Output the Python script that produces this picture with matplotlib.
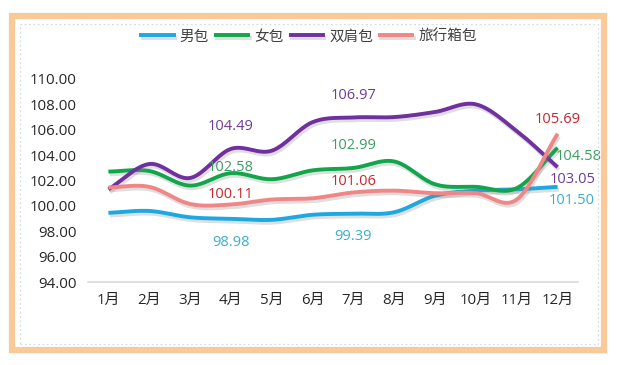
import numpy as np
import matplotlib.pyplot as plt
import matplotlib.patheffects as pe
from matplotlib.patches import Rectangle

plt.rcParams['font.family'] = ['Open Sans', 'Noto Sans CJK SC', 'DejaVu Sans']

months = ['1月', '2月', '3月', '4月', '5月', '6月', '7月', '8月', '9月', '10月', '11月', '12月']
series_names = ['男包', '女包', '双肩包', '旅行箱包']
nanbao = [99.45, 99.6, 99.1, 98.98, 98.9, 99.3, 99.39, 99.5, 100.8, 101.2, 101.3, 101.50]
nvbao = [102.7, 102.75, 101.6, 102.58, 102.1, 102.8, 102.99, 103.5, 101.7, 101.5, 101.4, 104.58]
shuangjian = [101.3, 103.3, 102.2, 104.49, 104.35, 106.6, 106.97, 107.0, 107.4, 108.0, 105.9, 103.05]
lvxing = [101.45, 101.5, 100.15, 100.11, 100.5, 100.6, 101.06, 101.2, 101.0, 101.0, 100.5, 105.69]

line_colors = ['#1BA8E3', '#12A64C', '#7030A0', '#F08686']
label_colors = ['#3AAECF', '#3C9E62', '#6E3C94', '#C4262E']


def smooth(x, y, n=20):
    # catmull-rom through the points, like excel's smoothed line
    x = np.asarray(x, float)
    y = np.asarray(y, float)
    px = np.concatenate([[2 * x[0] - x[1]], x, [2 * x[-1] - x[-2]]])
    py = np.concatenate([[2 * y[0] - y[1]], y, [2 * y[-1] - y[-2]]])
    xs, ys = [], []
    t = np.linspace(0, 1, n, endpoint=False)
    for i in range(1, len(px) - 2):
        for p, out in ((px, xs), (py, ys)):
            p0, p1, p2, p3 = p[i - 1], p[i], p[i + 1], p[i + 2]
            out.extend(0.5 * (2 * p1 + (-p0 + p2) * t + (2 * p0 - 5 * p1 + 4 * p2 - p3) * t ** 2
                              + (-p0 + 3 * p1 - 3 * p2 + p3) * t ** 3))
    xs.append(x[-1])
    ys.append(y[-1])
    return np.array(xs), np.array(ys)


fig = plt.figure(figsize=(6.19, 3.65), dpi=100)
# orange outer frame and dotted inner border
fig.patches.append(Rectangle((12 / 619, 1 - 350 / 365), 592 / 619, 334 / 365, transform=fig.transFigure,
                             fill=False, edgecolor='#F9C99A', linewidth=4.5, zorder=0))
fig.patches.append(Rectangle((20 / 619, 1 - 344 / 365), 578 / 619, 320 / 365, transform=fig.transFigure,
                             fill=False, edgecolor='#D3DCE6', linewidth=0.9, linestyle=(0, (1.5, 2)), zorder=0))

ax = fig.add_axes([88 / 619, 83 / 365, 490 / 619, 203 / 365])
x = np.arange(1, 13)
all_series = [nanbao, nvbao, shuangjian, lvxing]
for vals, name, col in zip(all_series, series_names, line_colors):
    sx, sy = smooth(x, vals)
    ax.plot(sx, sy, color=col, lw=2.8, label=name, solid_capstyle='butt',
            path_effects=[pe.SimpleLineShadow(offset=(1, -2), shadow_color='gray', alpha=0.25), pe.Normal()])

# data labels: (series index, month index, dx px, dy px)
labels = [
    (0, 3, 0, -24), (1, 3, 0, 6), (2, 3, 0, 22), (3, 3, 0, 10),
    (0, 6, 0, -23), (1, 6, 0, 22), (2, 6, 0, 22), (3, 6, 0, 11),
    (0, 11, 14, -14), (1, 11, 21, -9), (2, 11, 15, -12), (3, 11, 0, 14),
]
for si, mi, dx, dy in labels:
    v = all_series[si][mi]
    ax.annotate(f'{v:.2f}', (x[mi], v), xytext=(dx * 0.72, dy * 0.72), textcoords='offset points',
                ha='center', va='center', fontsize=10.5, color=label_colors[si])

ax.set_xlim(0.5, 12.5)
ax.set_ylim(94, 110)
ax.set_yticks(np.arange(94, 111, 2))
ax.set_yticklabels([f'{v:.2f}' for v in np.arange(94, 111, 2)])
ax.set_xticks(x)
ax.set_xticklabels(months)
for s in ['top', 'right', 'left']:
    ax.spines[s].set_visible(False)
ax.spines['bottom'].set_color('#D9D9D9')
ax.spines['bottom'].set_linewidth(1.2)
ax.tick_params(axis='both', length=0, labelsize=10.8, colors='#262626')
ax.tick_params(axis='y', pad=8)
ax.tick_params(axis='x', pad=8)
ax.patch.set_alpha(0)

fig.legend(loc='center', bbox_to_anchor=(308 / 619, 1 - 37 / 365), ncol=4, frameon=False, fontsize=10.5,
           handlelength=2.5, handletextpad=0.27, columnspacing=0.35, labelcolor='#404040')

fig.savefig('out.png', dpi=100)
